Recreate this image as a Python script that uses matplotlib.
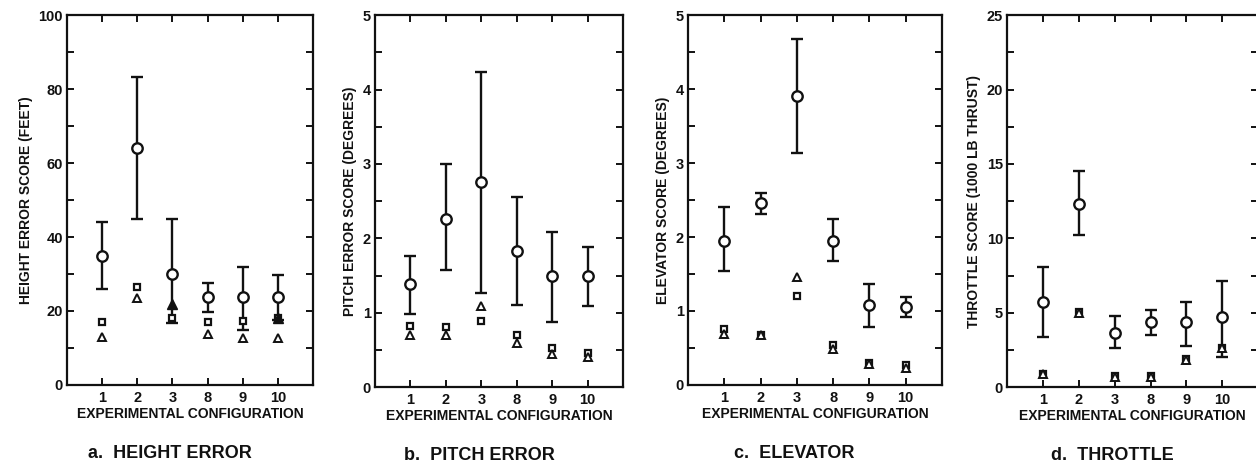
import numpy as np
import matplotlib.pyplot as plt
from matplotlib.ticker import MultipleLocator

plt.rcParams['font.family'] = ['Liberation Sans', 'DejaVu Sans']

configs = ['1', '2', '3', '8', '9', '10']

# a. height error (feet)
height_mean = [35.0, 64.1, 30.0, 23.9, 23.9, 23.7]
height_lo = [26.0, 45.0, 16.7, 19.8, 14.9, 17.6]
height_hi = [44.0, 83.2, 44.9, 27.7, 32.0, 29.7]
height_sq = [17.1, 26.4, 18.2, 17.1, 17.4, 18.0]
height_tri = [12.9, 23.6, np.nan, 13.7, 12.6, 12.8]
height_tri_filled = [np.nan, np.nan, 22.0, np.nan, np.nan, 18.0]

# b. pitch error (degrees)
pitch_mean = [1.39, 2.26, 2.76, 1.83, 1.50, 1.49]
pitch_lo = [0.98, 1.58, 1.27, 1.10, 0.88, 1.09]
pitch_hi = [1.76, 3.00, 4.24, 2.55, 2.08, 1.89]
pitch_sq = [0.82, 0.81, 0.89, 0.70, 0.52, 0.46]
pitch_tri = [0.70, 0.70, 1.09, 0.59, 0.44, 0.40]

# c. elevator (degrees)
elev_mean = [1.95, 2.46, 3.90, 1.95, 1.08, 1.06]
elev_lo = [1.54, 2.31, 3.13, 1.67, 0.79, 0.92]
elev_hi = [2.40, 2.59, 4.68, 2.25, 1.36, 1.19]
elev_sq = [0.76, 0.67, 1.20, 0.54, 0.30, 0.27]
elev_tri = [0.69, 0.67, 1.46, 0.48, 0.29, 0.23]

# d. throttle (1000 lb thrust)
thr_mean = [5.71, 12.3, 3.61, 4.36, 4.36, 4.74]
thr_lo = [3.39, 10.2, 2.60, 3.52, 2.73, 2.03]
thr_hi = [8.08, 14.5, 4.76, 5.21, 5.71, 7.11]
thr_sq = [0.90, 5.03, 0.75, 0.75, 1.87, 2.66]
thr_tri = [0.85, 5.00, 0.70, 0.70, 1.80, 2.60]

ink = '#111111'

panels = [
    dict(rect=[0.0533, 0.1685, 0.196, 0.799], mean=height_mean, lo=height_lo, hi=height_hi,
         sq=height_sq, tri=height_tri, trif=height_tri_filled, ymax=100, major=20, minor=10,
         ylabel='HEIGHT ERROR SCORE (FEET)', caption='a.  HEIGHT ERROR'),
    dict(rect=[0.2986, 0.1640, 0.1975, 0.803], mean=pitch_mean, lo=pitch_lo, hi=pitch_hi,
         sq=pitch_sq, tri=pitch_tri, trif=None, ymax=5, major=1, minor=0.5,
         ylabel='PITCH ERROR SCORE (DEGREES)', caption='b.  PITCH ERROR'),
    dict(rect=[0.5478, 0.1685, 0.2022, 0.799], mean=elev_mean, lo=elev_lo, hi=elev_hi,
         sq=elev_sq, tri=elev_tri, trif=None, ymax=5, major=1, minor=0.5,
         ylabel='ELEVATOR SCORE (DEGREES)', caption='c.  ELEVATOR'),
    dict(rect=[0.8018, 0.1640, 0.2000, 0.803], mean=thr_mean, lo=thr_lo, hi=thr_hi,
         sq=thr_sq, tri=thr_tri, trif=None, ymax=25, major=5, minor=2.5,
         ylabel='THROTTLE SCORE (1000 LB THRUST)', caption='d.  THROTTLE'),
]

fig = plt.figure(figsize=(12.56, 4.63), dpi=100, facecolor='white')
x = np.arange(1, len(configs) + 1)

for p in panels:
    ax = fig.add_axes(p['rect'])
    mean = np.array(p['mean'])
    yerr = [mean - np.array(p['lo']), np.array(p['hi']) - mean]
    ax.errorbar(x, mean, yerr=yerr, fmt='none', ecolor=ink, elinewidth=1.7,
                capsize=4, capthick=1.7, zorder=2)
    ax.plot(x, p['sq'], linestyle='none', marker='s', markersize=5,
            markerfacecolor='white', markeredgecolor=ink, markeredgewidth=1.6, zorder=3)
    ax.plot(x, p['tri'], linestyle='none', marker='^', markersize=6,
            markerfacecolor='white', markeredgecolor=ink, markeredgewidth=1.4, zorder=3)
    if p['trif'] is not None:
        ax.plot(x, p['trif'], linestyle='none', marker='^', markersize=7,
                markerfacecolor=ink, markeredgecolor=ink, zorder=4)
    ax.plot(x, mean, linestyle='none', marker='o', markersize=7.5,
            markerfacecolor='white', markeredgecolor=ink, markeredgewidth=1.7, zorder=5)

    ax.set_xlim(0, 7)
    ax.set_ylim(0, p['ymax'])
    ax.set_xticks(x)
    ax.set_xticklabels(configs)
    ax.yaxis.set_major_locator(MultipleLocator(p['major']))
    ax.yaxis.set_minor_locator(MultipleLocator(p['minor']))
    ax.tick_params(axis='both', which='both', direction='in', top=True, right=True,
                   color=ink, width=1.4, labelsize=10.5, labelcolor=ink)
    ax.tick_params(axis='y', which='major', length=5, pad=3)
    ax.tick_params(axis='y', which='minor', length=5)
    ax.tick_params(axis='x', which='major', length=5, pad=4)
    for lab in ax.get_xticklabels() + ax.get_yticklabels():
        lab.set_fontweight('bold')
    for s in ax.spines.values():
        s.set_linewidth(1.6)
        s.set_color(ink)
    ax.set_xlabel('EXPERIMENTAL CONFIGURATION', fontsize=10, fontweight='bold',
                  color=ink, labelpad=2)
    ax.set_ylabel(p['ylabel'], fontsize=10, fontweight='bold', color=ink, labelpad=4)
    ax.text(0.42, -0.185, p['caption'], transform=ax.transAxes, ha='center', va='center',
            fontsize=13, fontweight='bold', color=ink)

plt.savefig('out.png', dpi=100, facecolor='white')
